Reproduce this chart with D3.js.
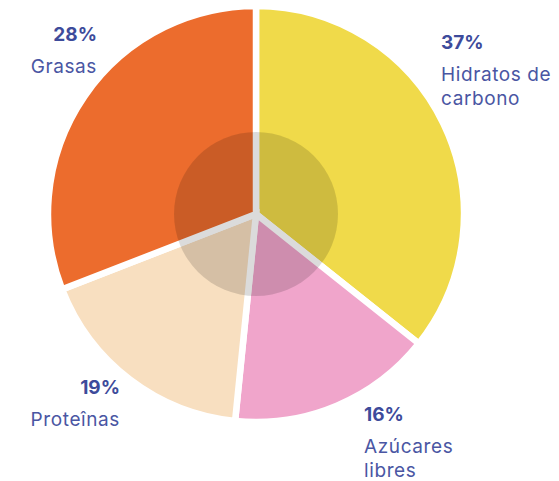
<!DOCTYPE html>
<html>
<head>
<meta charset="utf-8">
<script src="https://cdn.jsdelivr.net/npm/d3@7"></script>
<style>
  body { margin: 0; background: #fff; }
  text { font-family: Inter, "Noto Sans", sans-serif; }
</style>
</head>
<body>
<div id="container"></div>
<script>
const categories = ['Hidratos de carbono', 'Azúcares libres', 'Proteînas', 'Grasas']
// percentages printed on the chart
const percents = [37, 16, 19, 28]
// slice shares as drawn in the picture (the artwork's angles differ a bit from the printed numbers)
const sliceShares = [35.7, 15.9, 17.5, 30.9]
const nameLines = [['Hidratos de', 'carbono'], ['Azúcares', 'libres'], ['Proteînas'], ['Grasas']]
const colors = ['#f0da4a', '#f0a5cb', '#f8dfc0', '#ec6c2d']

const width = 559
const height = 481
const cx = 256
const cy = 214
const radius = 208

// where each label block sits: x, baseline of the percent line, anchor
const labelLayout = [
  { x: 441, y: 49, anchor: 'start' },
  { x: 364, y: 421, anchor: 'start' },
  { x: 120, y: 394, anchor: 'end' },
  { x: 97, y: 41, anchor: 'end' }
]

const data = categories.map((c, i) => ({
  name: c,
  value: sliceShares[i],
  pct: percents[i],
  lines: nameLines[i],
  color: colors[i]
}))

const svg = d3.select('#container')
  .append('svg')
  .attr('width', width)
  .attr('height', height)

const g = svg.append('g')
  .attr('transform', `translate(${cx},${cy})`)

const pie = d3.pie()
  .sort(null)
  .value(d => d.value)

const arc = d3.arc()
  .innerRadius(0)
  .outerRadius(radius)

g.selectAll('path.slice')
  .data(pie(data))
  .join('path')
  .attr('class', 'slice')
  .attr('d', arc)
  .attr('fill', d => d.data.color)
  .attr('stroke', '#fff')
  .attr('stroke-width', 6.5)
  .attr('stroke-linejoin', 'miter')

g.append('circle')
  .attr('r', 82)
  .attr('fill', '#000')
  .attr('fill-opacity', 0.14)

const labels = svg.selectAll('g.label')
  .data(data)
  .join('g')
  .attr('class', 'label')
  .attr('transform', (d, i) => `translate(${labelLayout[i].x},${labelLayout[i].y})`)

labels.append('text')
  .attr('text-anchor', (d, i) => labelLayout[i].anchor)
  .attr('fill', '#3d4b9b')
  .attr('font-size', 19)
  .attr('font-weight', 700)
  .text(d => d.pct + '%')

labels.each(function (d, i) {
  const t = d3.select(this).append('text')
    .attr('text-anchor', labelLayout[i].anchor)
    .attr('fill', '#4a56a3')
    .attr('font-size', 19)
    .attr('letter-spacing', 0.6)
  d.lines.forEach((line, j) => {
    t.append('tspan')
      .attr('x', 0)
      .attr('y', 32 + j * 24)
      .text(line)
  })
})
</script>
</body>
</html>
